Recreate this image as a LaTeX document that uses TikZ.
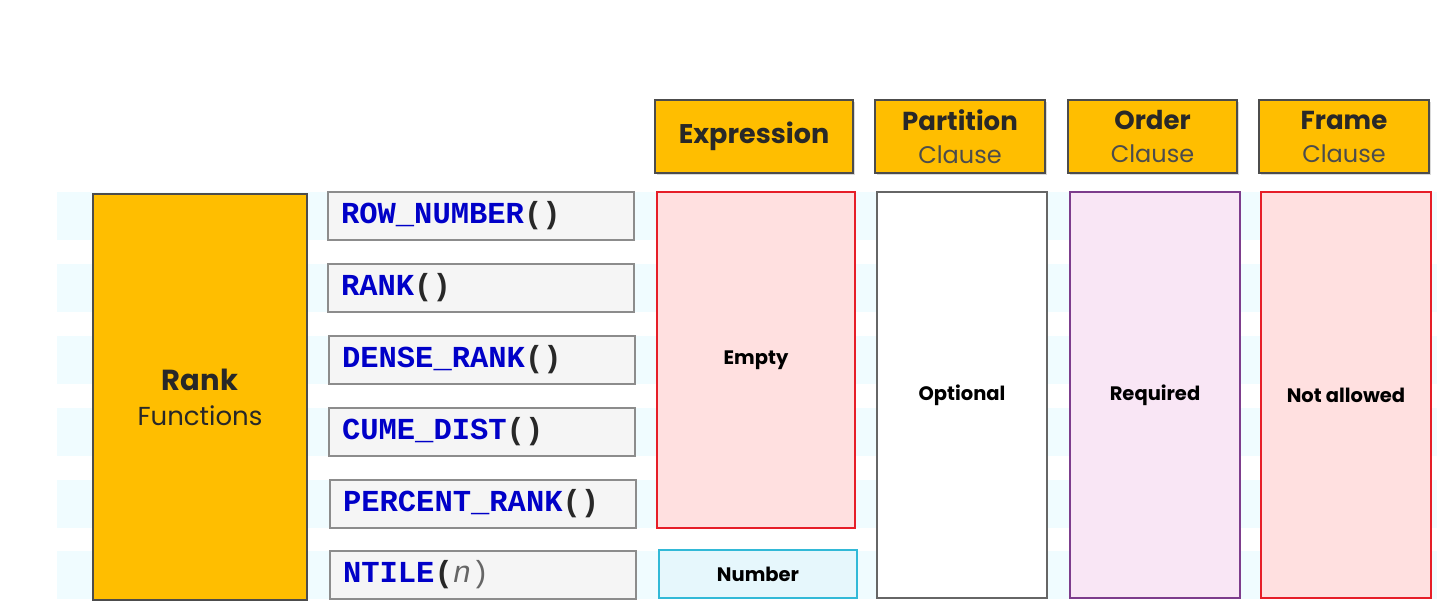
\documentclass[tikz,border=0pt]{standalone}
\usepackage{fontspec}
\setmainfont{Poppins}
\setmonofont{Liberation Mono}
\usepackage{tikz}
\usetikzlibrary{shapes,positioning,shadows}
\definecolor{header}{RGB}{255,190,0}
\definecolor{textdark}{RGB}{40,40,40}
\definecolor{codeblue}{RGB}{0,0,200}
\definecolor{stripe}{RGB}{240,252,255}
\definecolor{redline}{RGB}{230,30,40}
\definecolor{redfill}{RGB}{255,224,224}
\definecolor{purpleline}{RGB}{125,60,140}
\definecolor{purplefill}{RGB}{249,230,245}
\definecolor{cyanline}{RGB}{50,185,215}
\definecolor{cyanfill}{RGB}{230,247,252}

\begin{document}
\begin{tikzpicture}[
    x=1pt, y=-1pt,
    rankbox/.style={rectangle, draw=black!70, fill=header, line width=1.5pt,
                 minimum width=214pt, minimum height=406pt, align=center, text=textdark,
                 font=\fontsize{26}{35}\selectfont},
    fnbox/.style={rectangle, draw=black!45, fill=black!4, line width=2pt,
                  minimum width=306pt, minimum height=48pt, text width=280pt, align=left,
                  font=\ttfamily\bfseries\fontsize{30.5}{34}\selectfont, text=codeblue},
    headbox/.style={rectangle, draw=black!70, fill=header, line width=1.5pt,
                    minimum height=73pt, align=center, text=textdark,
                    font=\fontsize{24}{33}\selectfont,
                    drop shadow={shadow xshift=2pt, shadow yshift=-2pt, opacity=0.3}},
    colbox/.style={rectangle, line width=2.5pt, minimum width=170pt, minimum height=406pt,
                   align=center, font=\bfseries\fontsize{19.5}{22}\selectfont, text=black}
]
    \useasboundingbox (0,0) rectangle (1437,601);

    % Background stripes
    \foreach \y in {216,288,360,432,504,575}
        \fill[stripe] (57,\y-24) rectangle (1437,\y+24);

    % Rank functions
    \node[rankbox] (rank) at (200,397) {{\bfseries\fontsize{29}{35}\selectfont Rank}\\
        Functions};

    \node[fnbox] (rownumber) at (481,216) {ROW\_NUMBER{\color{textdark}()}};
    \node[fnbox] (rankfn) at (481,288) {RANK{\color{textdark}()}};
    \node[fnbox] (denserank) at (482,360) {DENSE\_RANK{\color{textdark}()}};
    \node[fnbox] (cumedist) at (482,432) {CUME\_DIST{\color{textdark}()}};
    \node[fnbox] (percentrank) at (483,504) {PERCENT\_RANK{\color{textdark}()}};
    \node[fnbox] (ntile) at (483,575) {NTILE{\color{textdark}(\mdseries\itshape\color{black!60}n\upshape)}};

    % Headers
    \node[headbox, minimum width=198pt, font=\bfseries\fontsize{27}{30}\selectfont] (expression) at (754,136.5) {Expression};
    \node[headbox, minimum width=170pt] (partition) at (960,136.5)
        {{\bfseries\fontsize{26}{30}\selectfont Partition}\\{\color{black!70}Clause}};
    \node[headbox, minimum width=169pt] (order) at (1152.5,136.5)
        {{\bfseries\fontsize{26}{30}\selectfont Order}\\{\color{black!70}Clause}};
    \node[headbox, minimum width=170pt] (frame) at (1344,136.5)
        {{\bfseries\fontsize{26}{30}\selectfont Frame}\\{\color{black!70}Clause}};

    % Columns
    \node[colbox, draw=redline, fill=redfill, minimum width=198pt, minimum height=336pt] (empty) at (756,360) {Empty};
    \node[colbox, draw=cyanline, fill=cyanfill, minimum width=198pt, minimum height=48pt] (number) at (758,574) {Number};
    \node[colbox, draw=black!60, fill=white] (optional) at (962,395) {Optional};
    \node[colbox, draw=purpleline, fill=purplefill] (required) at (1155,395) {Required};
    \node[colbox, draw=redline, fill=redfill] (notallowed) at (1346,395) {Not allowed};
\end{tikzpicture}
\end{document}
